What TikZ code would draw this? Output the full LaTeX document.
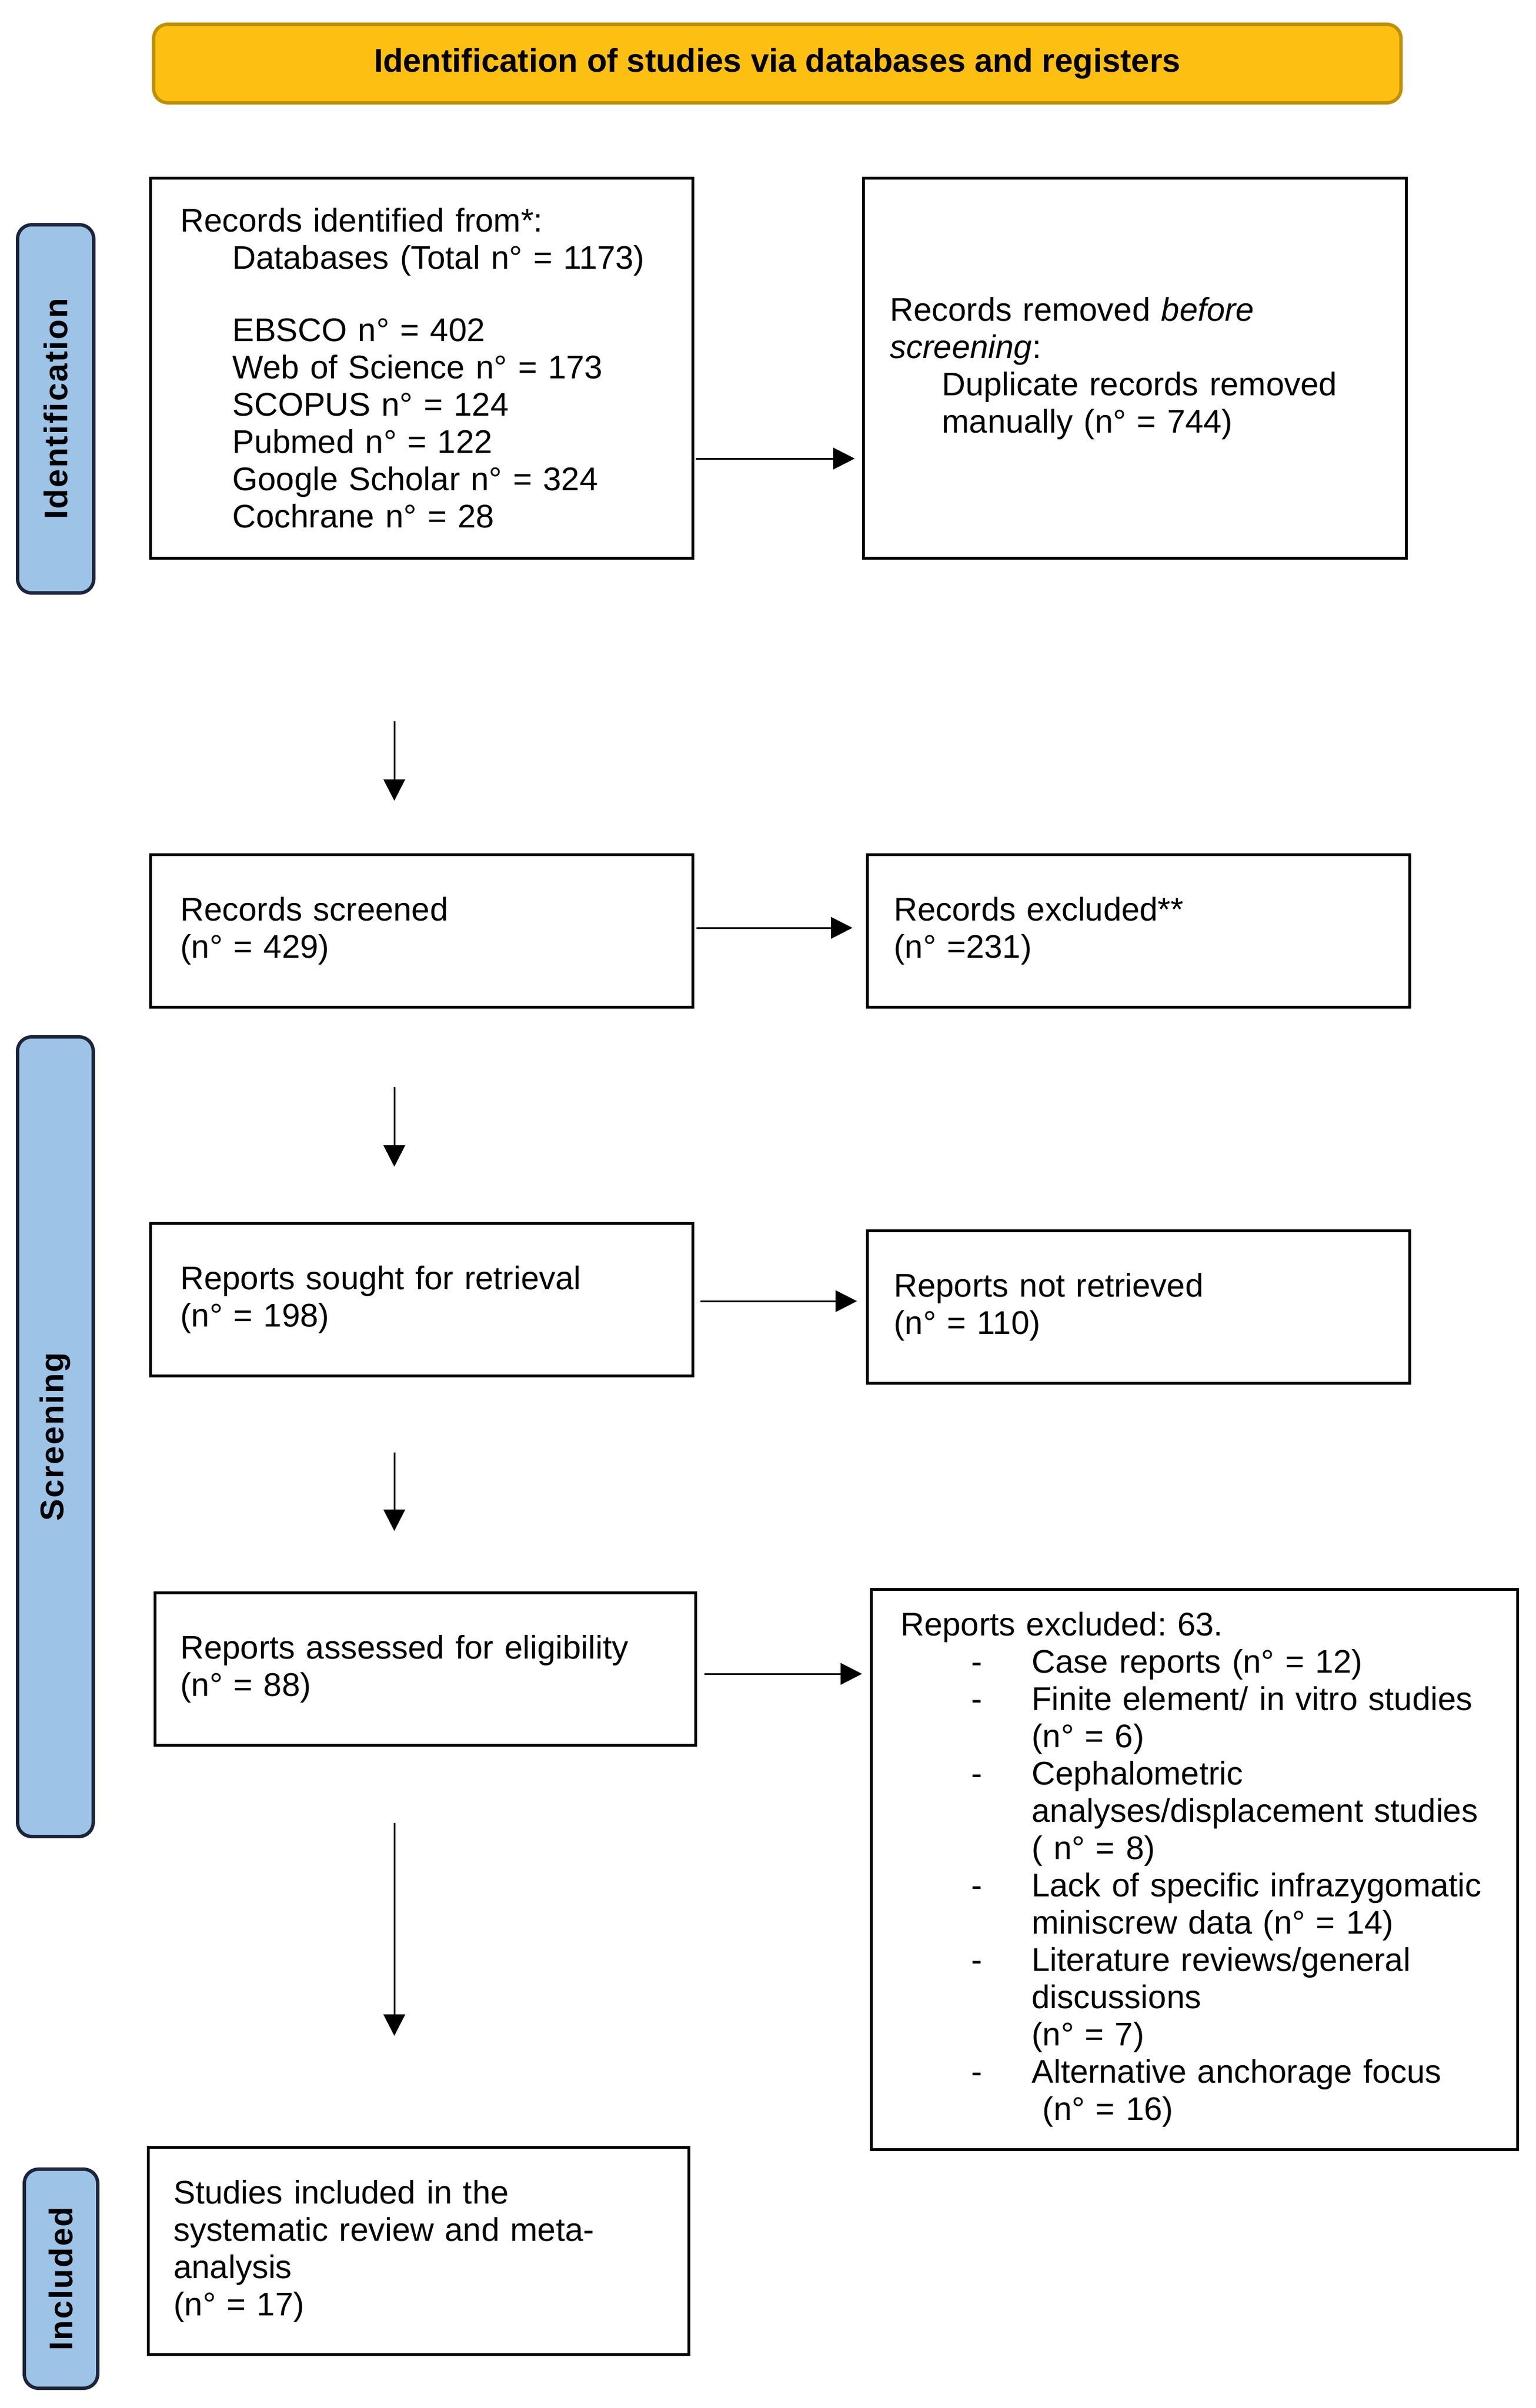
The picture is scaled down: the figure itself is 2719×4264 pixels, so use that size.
\documentclass[tikz,border=0pt]{standalone}
\usepackage{fontspec}
\setmainfont{Liberation Sans}
\newfontfamily\lblfont[LetterSpace=4]{Liberation Sans}
\usetikzlibrary{arrows.meta}
\definecolor{hdrfill}{HTML}{FDC012}
\definecolor{hdrdraw}{HTML}{BF9000}
\definecolor{lblfill}{HTML}{9DC3E6}
\definecolor{lbldraw}{HTML}{1C2438}
\newcommand\dashitem{\hspace*{125pt}\makebox[107pt][l]{-}}
\newcommand\contline{\hspace*{232pt}}
\newcommand\indline{\hspace*{92pt}}
\frenchspacing
\tikzset{
  flowbox/.style={draw=black, line width=5pt, anchor=north west, align=left,
    inner ysep=0pt, font=\fontsize{58}{66}\selectfont},
  phase/.style={draw=lbldraw, fill=lblfill, line width=6pt, rounded corners=25pt,
    rotate=90, inner sep=0pt, font=\lblfont\bfseries\fontsize{58}{66}\selectfont},
  header/.style={draw=hdrdraw, fill=hdrfill, line width=6pt, rounded corners=25pt,
    inner sep=0pt, font=\bfseries\fontsize{58}{66}\selectfont},
  arr/.style={line width=3pt, -{Triangle[length=38pt,width=38pt]}},
}
\begin{document}
\begin{tikzpicture}[x=1pt,y=-1pt]
\useasboundingbox (0,0) rectangle (2719,4264);

% header
\node[header, minimum width=2208pt, minimum height=139pt] (hdr) at (1376,112.5)
  {Identification of studies via databases and registers};

% phase labels
\node[phase, minimum width=652pt, minimum height=135pt] (lid) at (98.5,724) {Identification};
\node[phase, minimum width=1416pt, minimum height=134pt] (lsc) at (98,2544) {Screening};
\node[phase, minimum width=388pt, minimum height=130pt] (lin) at (108,4035) {Included};

% boxes
\node[flowbox, inner xsep=53pt, text width=854pt, minimum height=673pt] (b1) at (264,313)
  {Records identified from*:\\
   \indline Databases (Total n° = 1173)\\[62pt]
   \indline EBSCO n° = 402\\
   \indline Web of Science n° = 173\\
   \indline SCOPUS n° = 124\\
   \indline Pubmed n° = 122\\
   \indline Google Scholar n° = 324\\
   \indline Cochrane n° = 28};

\node[flowbox, inner xsep=47pt, text width=867pt, minimum height=673pt] (b2) at (1526,313)
  {Records removed \textit{before}\\
   \textit{screening}:\\
   \indline Duplicate records removed\\
   \indline manually (n° = 744)};

\node[flowbox, inner xsep=53pt, text width=854pt, minimum height=270pt] (b3) at (264,1511)
  {Records screened\\(n° = 429)};

\node[flowbox, inner xsep=47pt, text width=866pt, minimum height=270pt] (b4) at (1533,1511)
  {Records excluded**\\(n° =231)};

\node[flowbox, inner xsep=53pt, text width=854pt, minimum height=270pt] (b5) at (264,2164)
  {Reports sought for retrieval\\(n° = 198)};

\node[flowbox, inner xsep=47pt, text width=866pt, minimum height=270pt] (b6) at (1533,2177)
  {Reports not retrieved\\(n° = 110)};

\node[flowbox, inner xsep=45pt, text width=867pt, minimum height=270pt] (b7) at (272,2818)
  {Reports assessed for eligibility\\(n° = 88)};

\node[flowbox, inner xsep=52pt, text width=1040pt, minimum height=992pt] (b8) at (1540,2812)
  {Reports excluded: 63.\\
   \dashitem Case reports (n° = 12)\\
   \dashitem Finite element/ in vitro studies\\
   \contline (n° = 6)\\
   \dashitem Cephalometric\\
   \contline analyses/displacement studies\\
   \contline ( n° = 8)\\
   \dashitem Lack of specific infrazygomatic\\
   \contline miniscrew data (n° = 14)\\
   \dashitem Literature reviews/general\\
   \contline discussions\\
   \contline (n° = 7)\\
   \dashitem Alternative anchorage focus\\
   \contline\ (n° = 16)};

\node[flowbox, inner xsep=45pt, text width=867pt, minimum height=367pt] (b9) at (260,3800)
  {Studies included in the\\
   systematic review and meta-\\
   analysis\\
   (n° = 17)};

% horizontal arrows
\coordinate (h1) at (0,812);
\coordinate (h2) at (0,1643);
\coordinate (h3) at (0,2304);
\coordinate (h4) at (0,2964);
\draw[arr] ([xshift=3pt]b1.east |- h1) -- ([xshift=-13pt]b2.west |- h1);
\draw[arr] ([xshift=4pt]b3.east |- h2) -- ([xshift=-24pt]b4.west |- h2);
\draw[arr] ([xshift=11pt]b5.east |- h3) -- ([xshift=-16pt]b6.west |- h3);
\draw[arr] ([xshift=13pt]b7.east |- h4) -- ([xshift=-14pt]b8.west |- h4);

% vertical arrows
\coordinate (d1s) at (698,1277); \coordinate (d1e) at (698,1418);
\coordinate (d2s) at (698,1925); \coordinate (d2e) at (698,2066);
\coordinate (d3s) at (698,2572); \coordinate (d3e) at (698,2711);
\coordinate (d4s) at (698,3228); \coordinate (d4e) at (698,3605);
\draw[arr] (d1s) -- (d1e);
\draw[arr] (d2s) -- (d2e);
\draw[arr] (d3s) -- (d3e);
\draw[arr] (d4s) -- (d4e);
\end{tikzpicture}
\end{document}
